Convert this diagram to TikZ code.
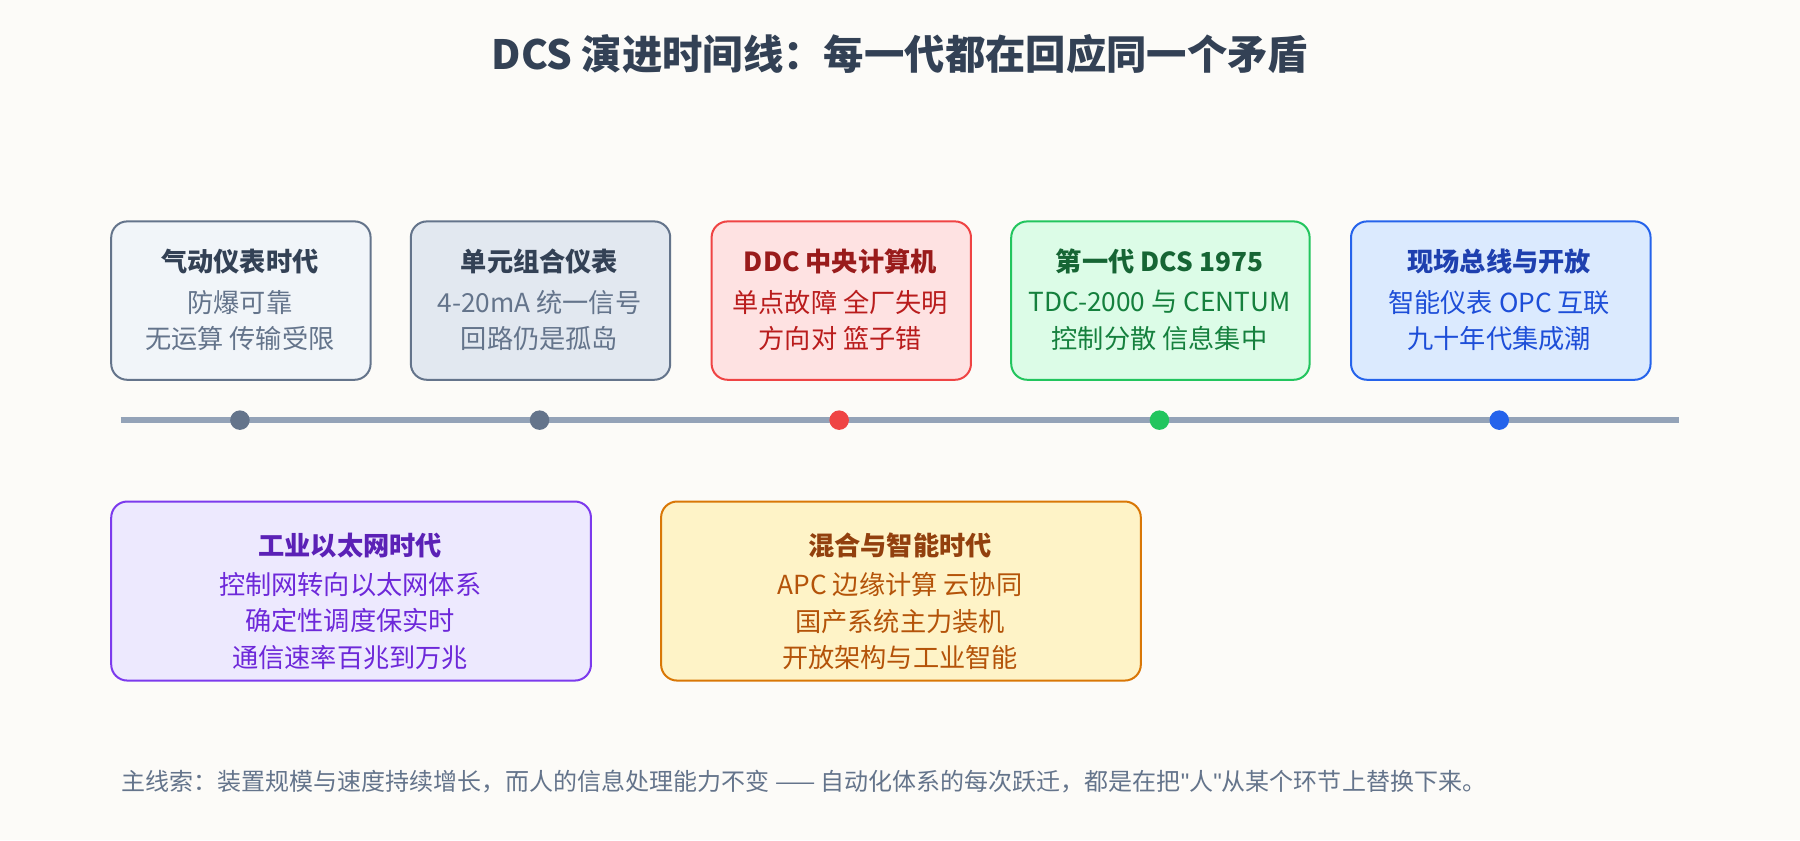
\documentclass[tikz,border=0pt]{standalone}
\usepackage{fontspec}
\setmainfont{Noto Sans CJK SC}
\newfontfamily\quotefont{Liberation Sans}
\usetikzlibrary{positioning}
\definecolor{bgc}{HTML}{FCFBF8}
\definecolor{titlec}{HTML}{334155}
\definecolor{linec}{HTML}{94A3B8}
\definecolor{notec}{HTML}{64748B}
\definecolor{s2}{HTML}{F1F5F9}\definecolor{s3}{HTML}{E2E8F0}
\definecolor{r1}{HTML}{EF4444}\definecolor{r2}{HTML}{FEE2E2}\definecolor{r3}{HTML}{991B1B}\definecolor{r4}{HTML}{B91C1C}
\definecolor{g1}{HTML}{22C55E}\definecolor{g2}{HTML}{DCFCE7}\definecolor{g3}{HTML}{166534}\definecolor{g4}{HTML}{15803D}
\definecolor{b1}{HTML}{2563EB}\definecolor{b2}{HTML}{DBEAFE}\definecolor{b3}{HTML}{1E40AF}\definecolor{b4}{HTML}{1D4ED8}
\definecolor{p1}{HTML}{7C3AED}\definecolor{p2}{HTML}{EDE9FE}\definecolor{p3}{HTML}{5B21B6}\definecolor{p4}{HTML}{6D28D9}
\definecolor{y1}{HTML}{D97706}\definecolor{y2}{HTML}{FEF3C7}\definecolor{y3}{HTML}{92400E}\definecolor{y4}{HTML}{B45309}
\tikzset{
  era/.style args={#1/#2}{draw=#1, fill=#2, rounded corners=0.28cm, line width=0.035cm, anchor=north west},
  head/.style={font=\fontsize{13}{15}\selectfont\bfseries},
  body/.style={font=\fontsize{13}{18}\selectfont, align=center},
  dot/.style={circle, inner sep=0pt, minimum size=0.34cm, fill=#1}
}
\begin{document}
\begin{tikzpicture}[x=0.02cm, y=-0.02cm]
  \fill[bgc] (0,0) rectangle (1568,732);
  % title
  \node[font=\fontsize{20}{22}\selectfont\bfseries, text=titlec] (title) at (784,47) {DCS 演进时间线：每一代都在回应同一个矛盾};

  % eras, upper row
  \node[era=notec/s2, minimum width=4.52cm, minimum height=2.76cm] (e1) at (96,192) {};
  \node[era=notec/s3, minimum width=4.52cm, minimum height=2.76cm] (e2) at (357,192) {};
  \node[era=r1/r2, minimum width=4.52cm, minimum height=2.76cm] (e3) at (619,192) {};
  \node[era=g1/g2, minimum width=5.2cm, minimum height=2.76cm] (e4) at (880,192) {};
  \node[era=b1/b2, minimum width=5.22cm, minimum height=2.76cm] (e5) at (1176,192) {};

  % eras, lower row
  \node[era=p1/p2, minimum width=8.36cm, minimum height=3.12cm] (e6) at (96,436) {};
  \node[era=y1/y2, minimum width=8.36cm, minimum height=3.12cm] (e7) at (575,436) {};

  \node[head, text=titlec] at (209,228) {气动仪表时代};
  \node[body, text=notec] at (209,279) {防爆可靠\\无运算 传输受限};
  \node[head, text=titlec] at (470,228) {单元组合仪表};
  \node[body, text=notec] at (470,279) {4-20mA 统一信号\\回路仍是孤岛};
  \node[head, text=r3] at (732,228) {DDC 中央计算机};
  \node[body, text=r4] at (732,279) {单点故障 全厂失明\\方向对 篮子错};
  \node[head, text=g3] at (1010,228) {第一代 DCS 1975};
  \node[body, text=g4] at (1010,279) {TDC-2000 与 CENTUM\\控制分散 信息集中};
  \node[head, text=b3] at (1306,228) {现场总线与开放};
  \node[body, text=b4] at (1306,279) {智能仪表 OPC 互联\\九十年代集成潮};
  \node[head, text=p3] at (305,475) {工业以太网时代};
  \node[body, text=p4] at (305,541) {控制网转向以太网体系\\确定性调度保实时\\通信速率百兆到万兆};
  \node[head, text=y3] at (784,475) {混合与智能时代};
  \node[body, text=y4] at (784,541) {APC 边缘计算 云协同\\国产系统主力装机\\开放架构与工业智能};

  % timeline
  \coordinate (t0) at (105,366);
  \coordinate (t1) at (1463,366);
  \draw[linec, line width=0.1cm] (t0) -- (t1);
  \node[dot=notec] (d1) at (209,366) {};
  \node[dot=notec] (d2) at (470,366) {};
  \node[dot=r1] (d3) at (731,366) {};
  \node[dot=g1] (d4) at (1010,366) {};
  \node[dot=b1] (d5) at (1306,366) {};

  % footer
  \node[anchor=west, text=notec, font=\fontsize{11.9}{14}\selectfont] (note) at (100,681) {主线索：装置规模与速度持续增长，而人的信息处理能力不变 —— 自动化体系的每次跃迁，都是在把{\quotefont"}人{\quotefont"}从某个环节上替换下来。};
\end{tikzpicture}
\end{document}
